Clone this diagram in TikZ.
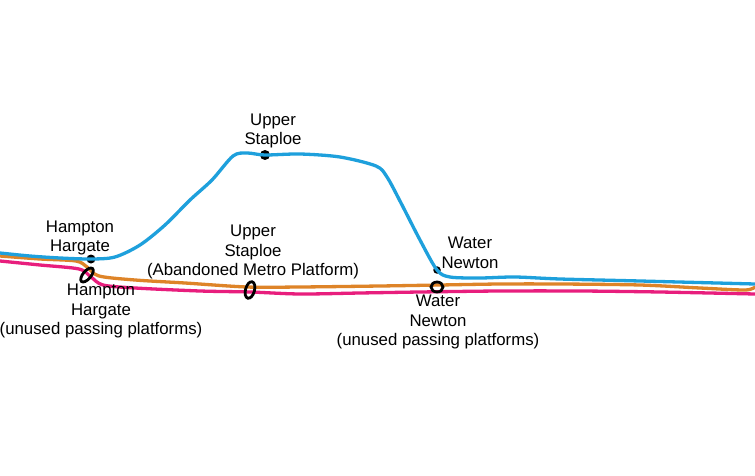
\documentclass[tikz,border=0pt]{standalone}
\usepackage{fontspec}
\setmainfont{Liberation Sans}
\usetikzlibrary{shapes.geometric}
\definecolor{lblue}{RGB}{30,160,220}
\definecolor{lorange}{RGB}{222,132,40}
\definecolor{lpink}{RGB}{232,30,125}
\tikzset{
  route/.style={line width=3.3pt, line cap=round, line join=round},
  stopdot/.style={circle, fill=black, inner sep=0pt, minimum size=9pt},
  platform/.style={ellipse, draw=black, line width=2.8pt, inner sep=0pt},
  lbl/.style={align=center, font=\fontsize{16.8}{19.5}\selectfont, inner sep=0pt}
}
\begin{document}
\begin{tikzpicture}[x=1pt,y=-1pt]
\useasboundingbox[fill=white] (0,0) rectangle (755,476);
% stop dots
\node[stopdot] (hhdot) at (91,259) {};
\node[stopdot, minimum size=10pt] (usdot) at (265,155) {};
\node[stopdot, minimum size=7.5pt] (wndot) at (437,270) {};
% routes
\draw[route, lpink] plot[smooth, tension=0.5] coordinates {(0,261) (40,265) (79,269) (91,277) (103,285) (135,288) (200,291) (250,292) (300,294) (360,293) (420,292) (500,291) (580,291) (660,292) (755,294)};
\draw[route, lorange] plot[smooth, tension=0.5] coordinates {(0,256) (40,259) (76,261) (87,267) (99,276) (135,280) (185,283) (247,287) (300,287) (380,286) (440,285) (500,284) (560,284) (640,285) (700,288) (745,290) (755,287)};
\draw[route, lblue] plot[smooth, tension=0.5] coordinates {(0,253) (30,256) (60,258) (hhdot) (115,257) (140,245) (165,225) (190,200) (212,180) (233,156) (247,153) (usdot) (300,154) (340,157) (376,166) (387,177) (401,203) (420,240) (wndot) (450,277) (480,278) (515,277) (560,279) (640,281) (755,284)};
% platforms
\node[platform, minimum width=8pt, minimum height=17pt, rotate=-40] (hhplat) at (87,275) {};
\node[platform, minimum width=9pt, minimum height=17pt, rotate=-15] (usplat) at (250,290) {};
\node[platform, minimum width=12pt, minimum height=10pt] (wnplat) at (437,287) {};
% labels
\node[lbl] (hhlbl) at (80,238) {Hampton\\Hargate};
\node[lbl] (hhplbl) at (101,311) {Hampton\\Hargate\\(unused passing platforms)};
\node[lbl] (uslbl) at (273,131) {Upper\\Staploe};
\node[lbl] (usplbl) at (253,252) {Upper\\Staploe\\(Abandoned Metro Platform)};
\node[lbl] (wnlbl) at (470,253) {Water\\Newton};
\node[lbl] (wnplbl) at (438,322) {Water\\Newton\\(unused passing platforms)};
\end{tikzpicture}
\end{document}
